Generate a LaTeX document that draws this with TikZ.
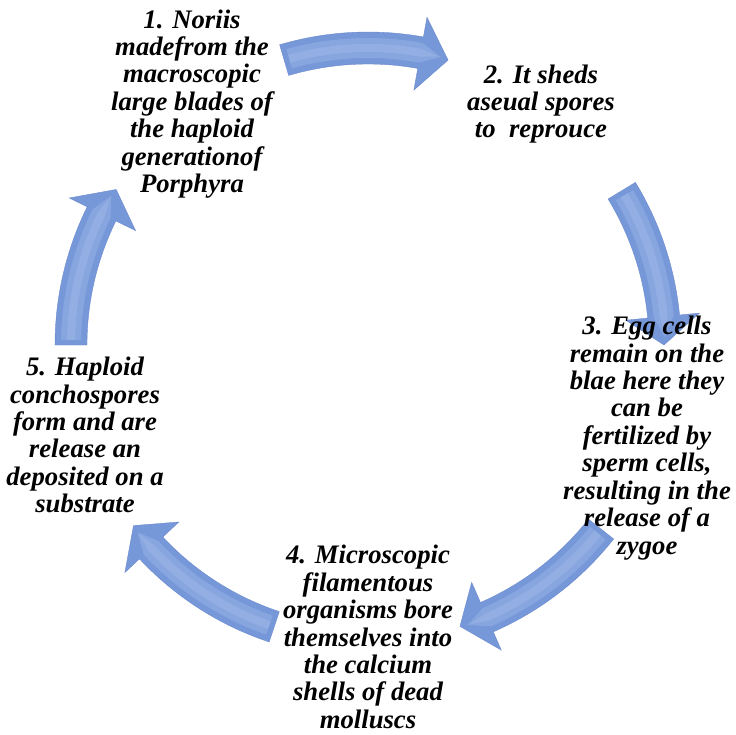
\documentclass[tikz,border=0pt]{standalone}
\usepackage{fontspec}
\setmainfont{Liberation Serif}
\usepackage{xcolor}
\usepackage{tikz}

\definecolor{arrowblue}{RGB}{118,151,216}
\definecolor{arrowlight}{RGB}{176,198,238}
\definecolor{arrowdark}{RGB}{104,134,204}

\tikzset{
  steptext/.style={font=\bfseries\itshape\fontsize{15.2}{15.6}\selectfont, align=center, inner sep=0pt, text=black},
  arrowbody/.style={fill=arrowblue, draw=arrowdark, line width=0.2pt},
  arrowshine/.style={fill=arrowlight, opacity=0.3}
}

\newcommand{\cyclearrow}[2]{%
  \pgfmathsetmacro{\headbase}{#2+5.5}%
  \pgfmathsetmacro{\shinestart}{#1-1.0}%
  \path[arrowbody] (#1:281) arc[start angle=#1, end angle=\headbase, radius=281]
    -- (\headbase:259) -- (#2:296) -- (\headbase:333) -- (\headbase:313)
    arc[start angle=\headbase, end angle=#1, radius=313] -- cycle;
  \path[arrowshine] (\shinestart:287) arc[start angle=\shinestart, end angle=\headbase, radius=287]
    -- (#2+1.5:297) -- (\headbase:307)
    arc[start angle=\headbase, end angle=\shinestart, radius=307] -- cycle;
  \path[arrowshine] (\shinestart:293) arc[start angle=\shinestart, end angle=\headbase, radius=293]
    -- (#2+2:297) -- (\headbase:301)
    arc[start angle=\headbase, end angle=\shinestart, radius=301] -- cycle;
}

\begin{document}
\begin{tikzpicture}[x=0.02cm, y=0.02cm]
  \useasboundingbox (-368,345) rectangle (368,-389);
  \cyclearrow{106.4}{74.3}
  \cyclearrow{31.3}{0.0}
  \cyclearrow{-38.3}{-71.9}
  \cyclearrow{-108.4}{-142.4}
  \cyclearrow{180.0}{148.3}
  \node[steptext] (nori) at (-176,241) {1. Noriis\\madefrom the\\macroscopic\\large blades of\\the haploid\\generationof\\Porphyra};
  \node[steptext] (spores) at (173,241) {2. It sheds\\aseual spores\\to~~reprouce};
  \node[steptext] (eggs) at (279,-93) {3. Egg cells\\remain on the\\blae here they\\can be\\fertilized by\\sperm cells,\\resulting in the\\release of a\\zygoe};
  \node[steptext] (filaments) at (0,-292) {4. Microscopic\\filamentous\\organisms bore\\themselves into\\the calcium\\shells of dead\\molluscs};
  \node[steptext] (conchos) at (-283,-90) {5. Haploid\\conchospores\\form and are\\release an\\deposited on a\\substrate};
\end{tikzpicture}
\end{document}
